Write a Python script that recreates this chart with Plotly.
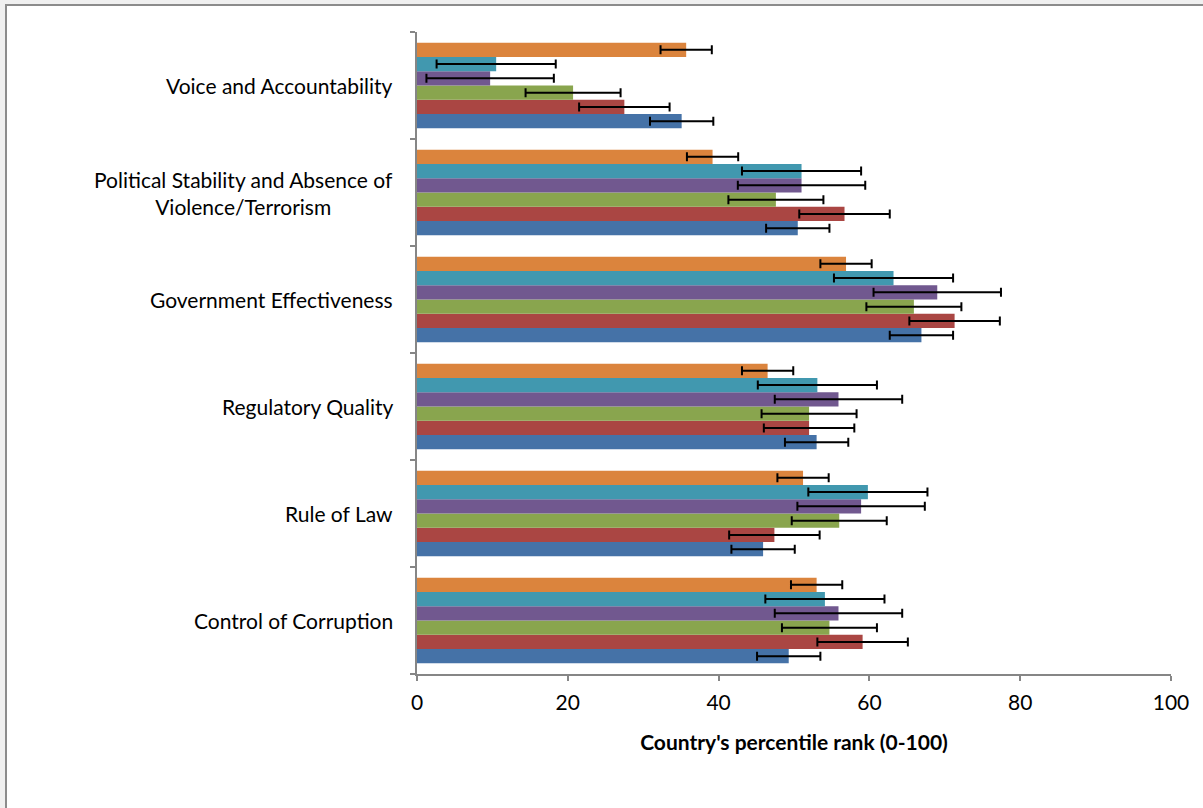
import plotly.graph_objects as go

# Categories listed bottom-to-top (Plotly draws first category at bottom)
categories = [
    "Control of Corruption",
    "Rule of Law",
    "Regulatory Quality",
    "Government Effectiveness",
    "Political Stability and Absence of<br>Violence/Terrorism",
    "Voice and Accountability",
]

# Series values (bottom bar of each group first)
series1 = [49.3, 45.9, 53.0, 66.9, 50.5, 35.1]   # blue
series2 = [59.1, 47.4, 52.0, 71.3, 56.7, 27.5]   # red
series3 = [54.7, 56.0, 52.0, 65.9, 47.6, 20.7]   # green
series4 = [55.9, 58.9, 55.9, 69.0, 51.0, 9.7]    # purple
series5 = [54.1, 59.8, 53.1, 63.2, 51.0, 10.5]   # teal
series6 = [53.0, 51.2, 46.5, 56.9, 39.2, 35.7]   # orange

err1 = [4.2, 4.2, 4.2, 4.2, 4.2, 4.2]
err2 = [6.0, 6.0, 6.0, 6.0, 6.0, 6.0]
err3 = [6.3, 6.3, 6.3, 6.3, 6.3, 6.3]
err4 = [8.45, 8.45, 8.45, 8.45, 8.45, 8.45]
err5 = [7.9, 7.9, 7.9, 7.9, 7.9, 7.9]
err6 = [3.4, 3.4, 3.4, 3.4, 3.4, 3.4]

x_ticks = [0, 20, 40, 60, 80, 100]
x_title = "Country's percentile rank (0-100)"

colors = ["#4572A7", "#AA4643", "#89A54E", "#71588F", "#4198AF", "#DB843D"]
FONT = "Lato"

W, H = 1203, 808
ML, MR, MT, MB = 417, 32, 32, 134

fig = go.Figure()
for vals, errs, col, name in zip(
    [series1, series2, series3, series4, series5, series6],
    [err1, err2, err3, err4, err5, err6],
    colors,
    ["Series 1", "Series 2", "Series 3", "Series 4", "Series 5", "Series 6"],
):
    fig.add_trace(go.Bar(
        y=categories, x=vals, orientation="h", name=name,
        marker=dict(color=col, line=dict(width=0)),
        error_x=dict(type="data", array=errs, visible=True,
                     color="#000000", thickness=2, width=4.5),
        showlegend=False,
    ))

# Outer chart-area frame
pw, ph = W - ML - MR, H - MT - MB
def px_x(p):
    return (p - ML) / pw
def px_y(p):
    return (H - MB - p) / ph

fig.add_shape(type="rect", xref="paper", yref="paper",
              x0=px_x(6), x1=px_x(W + 10), y0=px_y(H + 10), y1=px_y(5),
              line=dict(color="#8C8C8C", width=2), fillcolor="white",
              layer="below")

# Category labels as centered annotations
for c in categories:
    fig.add_annotation(x=0, xref="paper", y=c, yref="y", text=c,
                       showarrow=False, xanchor="right", xshift=-22,
                       align="center",
                       font=dict(family=FONT, size=21, color="#000000"))

fig.update_layout(
    width=W, height=H,
    margin=dict(l=ML, r=MR, t=MT, b=MB),
    paper_bgcolor="#F0F0F0",
    plot_bgcolor="white",
    barmode="group",
    bargap=0.2,
    bargroupgap=0,
    font=dict(family=FONT, size=21, color="#000000"),
    xaxis=dict(
        range=[0, 100], tickvals=x_ticks, showgrid=False, zeroline=False,
        showline=True, linecolor="#868686", linewidth=2,
        ticks="outside", ticklen=5, tickcolor="#868686", tickwidth=2,
        tickfont=dict(family=FONT, size=21), ticklabelstandoff=4,
        title=dict(text="<b>" + x_title + "</b>", font=dict(family=FONT, size=21), standoff=22),
    ),
    yaxis=dict(
        type="category", showgrid=False, zeroline=False,
        showline=True, linecolor="#868686", linewidth=2,
        ticks="outside", ticklen=5, tickcolor="#868686", tickwidth=2,
        tickson="boundaries", showticklabels=False,
    ),
)

fig.write_html(
    "out.html",
    config={"displayModeBar": False},
    post_script="document.body.style.margin='0';document.body.style.overflow='hidden';document.body.style.background='#F0F0F0';",
)
